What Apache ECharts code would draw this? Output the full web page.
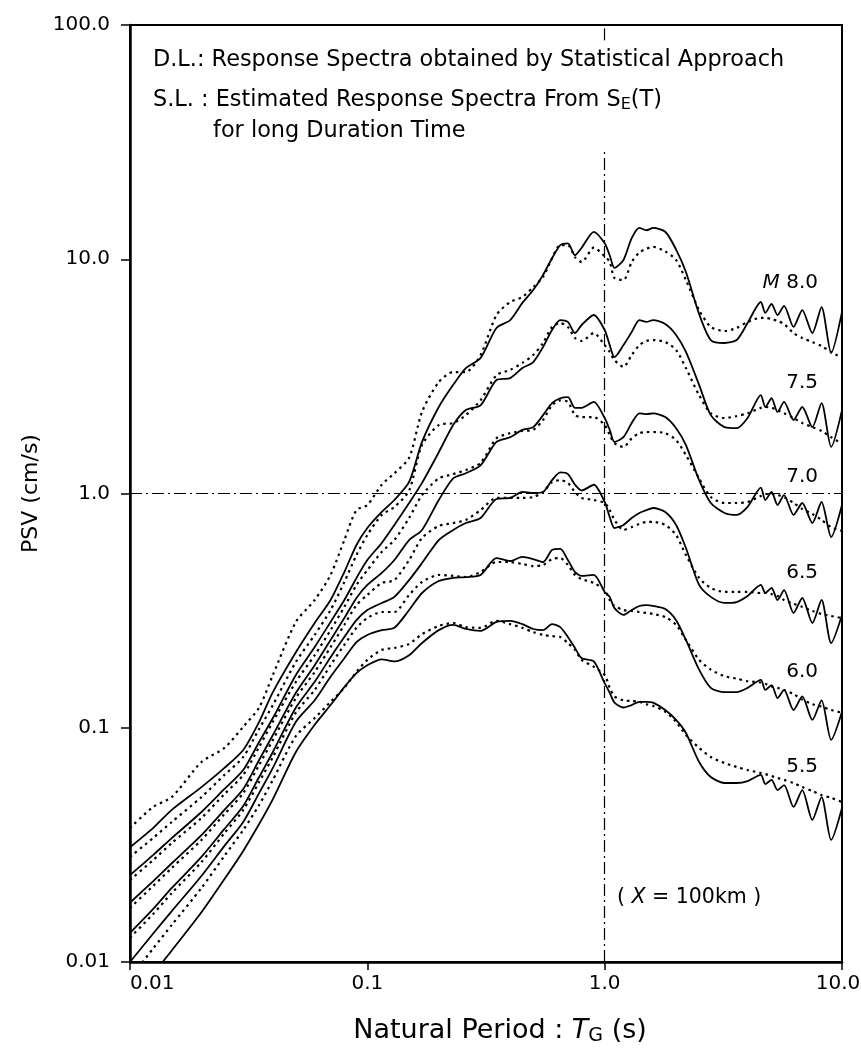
<!DOCTYPE html>
<html>
<head>
<meta charset="utf-8">
<script src="https://cdn.jsdelivr.net/npm/echarts@6/dist/echarts.min.js"></script>
<style>
  html, body { margin: 0; padding: 0; background: #fff; }
  #chart { width: 861px; height: 1059px; }
</style>
</head>
<body>
<div id="chart"></div>
<script>
// natural period T (s), shared by every curve
const periods = [0.01, 0.0125, 0.015, 0.02, 0.025, 0.03, 0.035, 0.04, 0.05, 0.06,
  0.07, 0.08, 0.09, 0.1, 0.115, 0.13, 0.15, 0.17, 0.2, 0.23,
  0.26, 0.3, 0.35, 0.4, 0.45, 0.5, 0.55, 0.6, 0.65, 0.7,
  0.75, 0.8, 0.9, 1.0, 1.05, 1.1, 1.2, 1.3, 1.4, 1.5,
  1.6, 1.8, 2.0, 2.2, 2.5, 2.8, 3.2, 3.6, 4.0, 4.55,
  4.75, 5.05, 5.35, 5.7, 6.25, 6.8, 7.5, 8.2, 9.0, 10.0]

// PSV (cm/s): dl = statistical approach (solid), sl = estimated from SE(T) (dotted)
const dl80 = [0.0309, 0.0373, 0.0446, 0.0558, 0.0674, 0.0804, 0.106, 0.142, 0.21, 0.28,
  0.351, 0.462, 0.603, 0.712, 0.834, 0.938, 1.12, 1.66, 2.34, 2.91,
  3.43, 3.79, 5.09, 5.5, 6.51, 7.39, 8.57, 10.1, 11.5, 11.7,
  10.4, 11.2, 13.1, 11.7, 10.4, 9.18, 9.93, 12.3, 13.6, 13.3,
  13.6, 13.1, 11.0, 8.82, 5.84, 4.52, 4.39, 4.52, 5.34, 6.57,
  5.9, 6.44, 5.78, 6.32, 5.14, 6.07, 4.84, 6.25, 3.98, 5.96]
const sl80 = [0.0373, 0.0459, 0.0506, 0.0714, 0.082, 0.101, 0.122, 0.168, 0.283, 0.351,
  0.449, 0.633, 0.85, 0.893, 1.09, 1.22, 1.42, 2.23, 2.99, 3.3,
  3.3, 3.9, 5.78, 6.57, 6.9, 7.61, 8.4, 10.1, 11.5, 11.5,
  10.2, 9.73, 11.2, 10.3, 9.73, 8.32, 8.15, 9.73, 10.7, 11.1,
  11.3, 10.8, 9.93, 8.15, 6.07, 5.14, 4.94, 5.09, 5.4, 5.62,
  5.62, 5.56, 5.45, 5.29, 4.84, 4.61, 4.43, 4.26, 4.02, 3.79]
const dl75 = [0.0235, 0.0286, 0.0338, 0.0437, 0.0548, 0.066, 0.0869, 0.11, 0.168, 0.221,
  0.283, 0.351, 0.436, 0.52, 0.615, 0.734, 0.911, 1.11, 1.5, 1.96,
  2.27, 2.38, 3.05, 3.11, 3.43, 3.64, 4.22, 4.99, 5.5, 5.4,
  4.84, 5.24, 5.78, 4.99, 4.3, 3.82, 4.3, 4.89, 5.5, 5.4,
  5.5, 5.29, 4.75, 4.02, 2.91, 2.16, 1.92, 1.9, 2.1, 2.63,
  2.34, 2.55, 2.23, 2.46, 2.06, 2.34, 1.92, 2.43, 1.58, 2.27]
const sl75 = [0.0281, 0.0338, 0.0396, 0.0506, 0.0629, 0.075, 0.0988, 0.125, 0.191, 0.249,
  0.318, 0.419, 0.546, 0.665, 0.81, 0.876, 1.03, 1.61, 1.96, 2.0,
  2.16, 2.5, 3.2, 3.37, 3.61, 3.9, 4.39, 5.14, 5.34, 5.14,
  4.61, 4.48, 4.84, 4.3, 4.02, 3.71, 3.47, 3.9, 4.3, 4.48,
  4.52, 4.43, 4.1, 3.43, 2.63, 2.2, 2.1, 2.14, 2.2, 2.32,
  2.34, 2.32, 2.27, 2.2, 2.1, 2.0, 1.92, 1.85, 1.74, 1.63]
const dl70 = [0.0179, 0.0221, 0.0264, 0.0348, 0.0446, 0.0548, 0.0728, 0.0931, 0.141, 0.185,
  0.237, 0.294, 0.358, 0.407, 0.458, 0.52, 0.633, 0.699, 0.938, 1.16,
  1.22, 1.32, 1.66, 1.74, 1.87, 1.92, 2.16, 2.43, 2.55, 2.58,
  2.32, 2.32, 2.46, 2.1, 1.87, 1.66, 1.74, 2.0, 2.2, 2.18,
  2.2, 2.12, 1.9, 1.61, 1.14, 0.911, 0.826, 0.81, 0.876, 1.06,
  0.938, 1.015, 0.893, 0.985, 0.81, 0.911, 0.748, 0.92, 0.652, 0.893]
const sl70 = [0.0224, 0.0272, 0.0322, 0.0412, 0.0521, 0.0629, 0.0828, 0.106, 0.157, 0.204,
  0.261, 0.328, 0.407, 0.471, 0.563, 0.633, 0.786, 0.985, 1.16, 1.21,
  1.26, 1.35, 1.72, 1.81, 1.85, 1.87, 2.06, 2.38, 2.5, 2.46,
  2.16, 2.12, 2.12, 1.96, 1.78, 1.64, 1.58, 1.72, 1.81, 1.83,
  1.83, 1.81, 1.69, 1.46, 1.16, 0.966, 0.911, 0.911, 0.92, 0.976,
  0.995, 0.995, 0.985, 0.966, 0.911, 0.859, 0.818, 0.771, 0.719, 0.692]
const dl65 = [0.0133, 0.0168, 0.0207, 0.0281, 0.037, 0.0463, 0.0616, 0.0788, 0.122, 0.157,
  0.2, 0.244, 0.288, 0.318, 0.341, 0.362, 0.427, 0.505, 0.633, 0.699,
  0.748, 0.786, 0.947, 0.957, 1.015, 1.005, 1.015, 1.14, 1.23, 1.21,
  1.09, 1.03, 1.09, 0.92, 0.794, 0.712, 0.734, 0.786, 0.826, 0.85,
  0.867, 0.834, 0.734, 0.585, 0.407, 0.362, 0.341, 0.344, 0.365, 0.407,
  0.376, 0.395, 0.351, 0.387, 0.309, 0.358, 0.28, 0.351, 0.23, 0.303]
const sl65 = [0.017, 0.0211, 0.0252, 0.0332, 0.0428, 0.0526, 0.0694, 0.0887, 0.134, 0.173,
  0.221, 0.275, 0.334, 0.369, 0.415, 0.427, 0.52, 0.646, 0.727, 0.748,
  0.771, 0.85, 0.957, 0.957, 0.957, 0.966, 1.015, 1.12, 1.14, 1.11,
  1.015, 0.957, 0.938, 0.911, 0.85, 0.771, 0.699, 0.719, 0.741, 0.756,
  0.756, 0.734, 0.665, 0.546, 0.436, 0.395, 0.38, 0.38, 0.38, 0.376,
  0.376, 0.372, 0.365, 0.351, 0.338, 0.328, 0.315, 0.306, 0.3, 0.294]
const dl60 = [0.01, 0.0132, 0.0165, 0.0233, 0.0313, 0.0396, 0.0526, 0.0674, 0.106, 0.131,
  0.165, 0.198, 0.232, 0.249, 0.261, 0.267, 0.318, 0.376, 0.423, 0.436,
  0.44, 0.449, 0.53, 0.515, 0.536, 0.525, 0.51, 0.574, 0.58, 0.52,
  0.462, 0.445, 0.449, 0.38, 0.362, 0.324, 0.303, 0.318, 0.331, 0.334,
  0.331, 0.321, 0.288, 0.237, 0.177, 0.148, 0.142, 0.142, 0.148, 0.16,
  0.145, 0.152, 0.134, 0.145, 0.119, 0.136, 0.108, 0.131, 0.0887, 0.117]
const sl60 = [0.0127, 0.016, 0.0197, 0.0267, 0.0355, 0.0446, 0.0587, 0.075, 0.116, 0.145,
  0.185, 0.226, 0.267, 0.294, 0.312, 0.312, 0.369, 0.419, 0.449, 0.445,
  0.44, 0.462, 0.51, 0.51, 0.5, 0.49, 0.495, 0.525, 0.53, 0.495,
  0.449, 0.431, 0.415, 0.387, 0.351, 0.331, 0.318, 0.315, 0.312, 0.309,
  0.306, 0.297, 0.275, 0.237, 0.195, 0.177, 0.166, 0.162, 0.158, 0.156,
  0.154, 0.15, 0.148, 0.145, 0.139, 0.132, 0.126, 0.123, 0.119, 0.116]
const dl55 = [0.00668, 0.00889, 0.0112, 0.0163, 0.0226, 0.0298, 0.0388, 0.0496, 0.0788, 0.103,
  0.125, 0.149, 0.171, 0.185, 0.196, 0.192, 0.204, 0.23, 0.261, 0.275,
  0.264, 0.259, 0.283, 0.286, 0.277, 0.264, 0.261, 0.277, 0.269, 0.244,
  0.219, 0.198, 0.192, 0.155, 0.141, 0.128, 0.122, 0.125, 0.129, 0.129,
  0.128, 0.119, 0.108, 0.095, 0.0714, 0.0616, 0.0581, 0.0581, 0.0592, 0.0629,
  0.0575, 0.0599, 0.0542, 0.0569, 0.0459, 0.0542, 0.0404, 0.0506, 0.0332, 0.0454]
const sl55 = [0.00855, 0.0114, 0.0144, 0.0207, 0.0284, 0.0366, 0.0468, 0.0599, 0.0922, 0.11,
  0.129, 0.148, 0.173, 0.195, 0.215, 0.219, 0.228, 0.251, 0.272, 0.28,
  0.269, 0.267, 0.286, 0.277, 0.267, 0.256, 0.249, 0.246, 0.244, 0.23,
  0.215, 0.195, 0.182, 0.168, 0.148, 0.136, 0.131, 0.13, 0.129, 0.126,
  0.124, 0.117, 0.106, 0.0931, 0.082, 0.075, 0.0707, 0.068, 0.066, 0.0641,
  0.0634, 0.0622, 0.061, 0.0599, 0.0581, 0.0558, 0.0537, 0.0516, 0.0502, 0.0482]

const magLabels = ['{i|M} 8.0', '7.5', '7.0', '6.5', '6.0', '5.5']

const curves = [
  { name: 'DL 8.0', values: dl80, dotted: false },
  { name: 'SL 8.0', values: sl80, dotted: true },
  { name: 'DL 7.5', values: dl75, dotted: false },
  { name: 'SL 7.5', values: sl75, dotted: true },
  { name: 'DL 7.0', values: dl70, dotted: false },
  { name: 'SL 7.0', values: sl70, dotted: true },
  { name: 'DL 6.5', values: dl65, dotted: false },
  { name: 'SL 6.5', values: sl65, dotted: true },
  { name: 'DL 6.0', values: dl60, dotted: false },
  { name: 'SL 6.0', values: sl60, dotted: true },
  { name: 'DL 5.5', values: dl55, dotted: false },
  { name: 'SL 5.5', values: sl55, dotted: true }
]

const FONT = '"DejaVu Sans", sans-serif'
const fmt = v => (v < 1 ? String(+v.toPrecision(1)) : v.toFixed(1))

const chart = echarts.init(document.getElementById('chart'))

const series = curves.map(c => ({
  type: 'line',
  name: c.name,
  data: periods.map((t, k) => [t, c.values[k]]),
  showSymbol: false,
  symbol: 'none',
  smooth: 0.25,
  clip: true,
  silent: true,
  z: c.dotted ? 3 : 4,
  lineStyle: c.dotted
    ? { color: '#000', width: 2.2, type: [2.5, 4] }
    : { color: '#000', width: 1.8 }
}))

// dash-dot reference lines at T = 1.0 s and PSV = 1.0 cm/s
series[0].markLine = {
  silent: true,
  symbol: 'none',
  label: { show: false },
  lineStyle: { color: '#000', width: 1.2, type: [12, 4, 2, 4] },
  data: [
    [{ coord: [0.01, 1] }, { coord: [10, 1] }],
    [{ coord: [1, 0.01] }, { coord: [1, 29] }],
    [{ coord: [1, 86] }, { coord: [1, 100] }]
  ]
}

const labelY = [283, 383, 477, 573, 672, 767]

chart.setOption({
  animation: false,
  backgroundColor: '#fff',
  grid: {
    left: 130, right: 19, top: 25, bottom: 97,
    show: true, borderColor: '#000', borderWidth: 2,
    outerBoundsMode: 'none'
  },
  xAxis: {
    type: 'log',
    logBase: 10,
    min: 0.01,
    max: 10,
    name: 'Natural Period : {i|T}{sub|G} (s)',
    nameLocation: 'middle',
    nameGap: 53,
    nameTextStyle: {
      color: '#000', fontSize: 27, fontFamily: FONT, padding: [0, 0, 0, 28],
      rich: {
        i: { fontStyle: 'italic', fontSize: 27, fontFamily: FONT, color: '#000' },
        sub: { fontSize: 19, fontFamily: FONT, color: '#000', verticalAlign: 'bottom', padding: [12, 0, 0, 0] }
      }
    },
    axisLine: { lineStyle: { color: '#000', width: 2.5 } },
    axisTick: { length: 8, lineStyle: { color: '#000', width: 1.5 } },
    axisLabel: {
      formatter: v => (v >= 9.99 ? '{r|' + fmt(v) + '}' : fmt(v)),
      color: '#000', fontSize: 20, fontFamily: FONT, margin: 12, alignMinLabel: 'left',
      rich: { r: { color: '#000', fontSize: 20, fontFamily: FONT, padding: [0, 8, 0, 0] } }
    },
    splitLine: { show: false }
  },
  yAxis: {
    type: 'log',
    logBase: 10,
    min: 0.01,
    max: 100,
    name: 'PSV (cm/s)',
    nameLocation: 'middle',
    nameGap: 84,
    nameTextStyle: { color: '#000', fontSize: 22, fontFamily: FONT },
    axisLine: { lineStyle: { color: '#000', width: 2.5 } },
    axisTick: { length: 9, lineStyle: { color: '#000', width: 1.5 } },
    axisLabel: { formatter: fmt, color: '#000', fontSize: 20, fontFamily: FONT, margin: 20 },
    splitLine: { show: false }
  },
  series: series,
  graphic: [
    {
      type: 'text', x: 153, y: 60,
      style: { text: 'D.L.: Response Spectra obtained by Statistical Approach', fill: '#000', fontSize: 22.4, fontFamily: FONT, verticalAlign: 'middle' }
    },
    {
      type: 'text', x: 153, y: 100,
      style: {
        text: 'S.L. : Estimated Response Spectra From S{sub|E}(T)', fill: '#000', fontSize: 22.4, fontFamily: FONT, verticalAlign: 'middle',
        rich: { sub: { fontSize: 16, fontFamily: FONT, fill: '#000', verticalAlign: 'bottom', padding: [10, 0, 0, 0] } }
      }
    },
    {
      type: 'text', x: 213, y: 131,
      style: { text: 'for long Duration Time', fill: '#000', fontSize: 22.4, fontFamily: FONT, verticalAlign: 'middle' }
    },
    {
      type: 'text', x: 617, y: 898,
      style: {
        text: '( {i|X} = 100km )', fill: '#000', fontSize: 20.5, fontFamily: FONT, verticalAlign: 'middle',
        rich: { i: { fontStyle: 'italic', fontSize: 20.5, fontFamily: FONT, fill: '#000' } }
      }
    }
  ].concat(magLabels.map((t, i) => ({
    type: 'text', x: 818, y: labelY[i],
    style: {
      text: t, fill: '#000', fontSize: 20, fontFamily: FONT, align: 'right', verticalAlign: 'middle',
      rich: { i: { fontStyle: 'italic', fontSize: 20, fontFamily: FONT, fill: '#000' } }
    }
  })))
})
</script>
</body>
</html>
